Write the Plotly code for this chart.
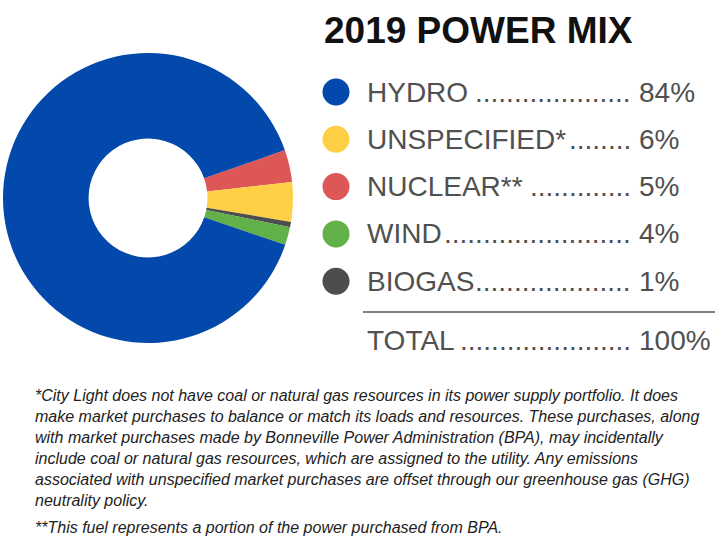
import plotly.graph_objects as go

# Donut slices (clockwise from the red slice)
slice_labels = ["NUCLEAR", "UNSPECIFIED", "BIOGAS", "WIND", "HYDRO"]
slice_values = [3.6, 4.4, 0.6, 2.0, 89.4]
slice_colors = ["#DE5757", "#FFD046", "#4D4D4F", "#62B048", "#0349AB"]

# Legend table
legend_labels = ["HYDRO", "UNSPECIFIED*", "NUCLEAR**", "WIND", "BIOGAS"]
legend_pcts = ["84%", "6%", "5%", "4%", "1%"]
legend_colors = ["#0349AB", "#FFD046", "#DE5757", "#62B048", "#4D4D4F"]
total_label = "TOTAL"
total_pct = "100%"
title_text = "2019 POWER MIX"

footnote_lines = [
    "*City Light does not have coal or natural gas resources in its power supply portfolio. It does",
    "make market purchases to balance or match its loads and resources. These purchases, along",
    "with market purchases made by Bonneville Power Administration (BPA), may incidentally",
    "include coal or natural gas resources, which are assigned to the utility. Any emissions",
    "associated with unspecified market purchases are offset through our greenhouse gas (GHG)",
    "neutrality policy.",
]
footnote2 = "**This fuel represents a portion of the power purchased from BPA."

W, H = 725, 560
FONT = "Liberation Sans, Arial, sans-serif"
GREY = "#505050"
FS = 28

# Arial / Liberation Sans advance widths (per 1000 em) for sizing the leader dots
ADV = {"H": 722, "Y": 667, "D": 722, "R": 722, "O": 778, "U": 722, "N": 722, "S": 667,
       "P": 667, "E": 667, "C": 722, "I": 278, "F": 611, "*": 389, "L": 556, "A": 667,
       "W": 944, "B": 667, "G": 778, "T": 611, ".": 278, " ": 278}


def text_width(s, size):
    return sum(ADV.get(c, 600) for c in s) * size / 1000.0


fig = go.Figure()
fig.add_trace(go.Pie(
    labels=slice_labels, values=slice_values,
    marker=dict(colors=slice_colors, line=dict(width=0)),
    hole=0.41, sort=False, direction="clockwise", rotation=70.7,
    textinfo="none", hoverinfo="label+percent", showlegend=False,
    domain=dict(x=[3 / W, 293 / W], y=[1 - 343 / H, 1 - 53 / H]),
))

row_y0, row_dy = 92, 47.3
row_ys = [row_y0 + i * row_dy for i in range(len(legend_labels))]

fig.add_trace(go.Scatter(
    x=[336] * len(legend_labels), y=row_ys, mode="markers",
    marker=dict(size=27, color=legend_colors, line=dict(width=0)),
    showlegend=False, hoverinfo="skip", xaxis="x", yaxis="y",
))

annotations = []
annotations.append(dict(x=322, y=30, text="<b>" + title_text + "</b>", xanchor="left", yanchor="middle",
                        showarrow=False, font=dict(family="Liberation Sans, Arial", size=37, color="#111111")))

LX, DOTX, PX = 365, 633, 637
DOTW = text_width(".", FS)


def add_row(label, pct, y):
    avail = DOTX - LX - text_width(label, FS) - 4
    n = max(1, int(avail // DOTW))
    annotations.append(dict(x=LX, y=y, text=label, xanchor="left", yanchor="middle",
                            showarrow=False, font=dict(family=FONT, size=FS, color=GREY)))
    annotations.append(dict(x=DOTX, y=y, text="." * n, xanchor="right", yanchor="middle",
                            showarrow=False, font=dict(family=FONT, size=FS, color=GREY)))
    annotations.append(dict(x=PX, y=y, text=pct, xanchor="left", yanchor="middle",
                            showarrow=False, font=dict(family=FONT, size=FS, color=GREY)))


for lab, pct, y in zip(legend_labels, legend_pcts, row_ys):
    add_row(lab, pct, y)
add_row(total_label, total_pct, 340)

fy0, fdy = 395, 21
for i, line in enumerate(footnote_lines):
    annotations.append(dict(x=33, y=fy0 + i * fdy, text="<i>" + line + "</i>", xanchor="left", yanchor="middle",
                            showarrow=False, font=dict(family=FONT, size=16, color="#222222")))
annotations.append(dict(x=33, y=527, text="<i>" + footnote2 + "</i>", xanchor="left", yanchor="middle",
                        showarrow=False, font=dict(family=FONT, size=16, color="#222222")))

for a in annotations:
    a["xref"] = "x"
    a["yref"] = "y"

fig.update_layout(
    width=W, height=H, margin=dict(l=0, r=0, t=0, b=0),
    paper_bgcolor="white", plot_bgcolor="white",
    xaxis=dict(range=[0, W], visible=False, fixedrange=True),
    yaxis=dict(range=[H, 0], visible=False, fixedrange=True),
    annotations=annotations,
    shapes=[dict(type="line", xref="x", yref="y", x0=363, x1=715, y0=312, y1=312,
                 line=dict(color="#555555", width=1.5))],
    showlegend=False,
)

fig.write_html("out.html")
